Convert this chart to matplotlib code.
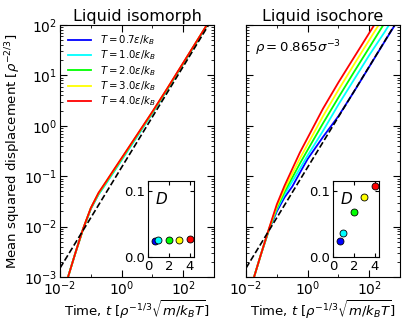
import matplotlib
matplotlib.use('Agg')
import matplotlib.pyplot as plt
from matplotlib.ticker import LogLocator, NullFormatter

# --- data ---
temps = [0.7, 1.0, 2.0, 3.0, 4.0]
colors = ['#0000ff', '#00ffff', '#00ff00', '#ffff00', '#ff0000']

t = [1e-2, 1.78e-2, 3.16e-2, 5.62e-2, 0.1, 0.178, 0.316, 0.562, 1.0,
     3.16, 10.0, 31.6, 100.0, 316.0, 1000.0]

# isomorph: curves nearly collapse
msd_iso = [
    [3.0e-4, 9.5e-4, 3.0e-3, 8.9e-3, 2.25e-2, 4.4e-2, 7.4e-2, 0.125, 0.214, 0.62, 1.80, 5.5, 17.0, 53.0, 165.0],
    [3.0e-4, 9.5e-4, 3.0e-3, 8.9e-3, 2.25e-2, 4.3e-2, 7.2e-2, 0.122, 0.208, 0.60, 1.78, 5.4, 17.0, 53.0, 165.0],
    [3.0e-4, 9.5e-4, 3.0e-3, 8.9e-3, 2.3e-2, 4.5e-2, 7.6e-2, 0.129, 0.220, 0.64, 1.85, 5.6, 17.3, 54.0, 167.0],
    [3.0e-4, 9.5e-4, 3.0e-3, 9.0e-3, 2.32e-2, 4.6e-2, 7.8e-2, 0.132, 0.225, 0.65, 1.88, 5.7, 17.5, 54.5, 168.0],
    [3.0e-4, 9.5e-4, 3.0e-3, 9.1e-3, 2.34e-2, 4.68e-2, 7.9e-2, 0.135, 0.229, 0.66, 1.91, 5.75, 17.8, 55.0, 170.0],
]
D_iso = [0.0245, 0.025, 0.0255, 0.026, 0.0265]

# isochore rho = 0.865
msd_ich = [
    [3.0e-4, 9.5e-4, 3.0e-3, 8.7e-3, 2.0e-2, 3.8e-2, 6.2e-2, 0.117, 0.219, 0.60, 1.55, 4.7, 14.8, 46.8, 145.0],
    [3.0e-4, 9.5e-4, 3.0e-3, 8.8e-3, 2.19e-2, 4.37e-2, 7.8e-2, 0.141, 0.257, 0.79, 2.63, 8.1, 25.1, 72.4, 224.0],
    [3.0e-4, 9.5e-4, 3.0e-3, 8.9e-3, 2.34e-2, 4.9e-2, 9.3e-2, 0.178, 0.331, 1.12, 3.63, 11.5, 35.5, 110.0, 339.0],
    [3.0e-4, 9.5e-4, 3.0e-3, 9.1e-3, 2.51e-2, 5.5e-2, 0.112, 0.224, 0.427, 1.55, 5.13, 16.2, 50.1, 155.0, 479.0],
    [3.0e-4, 9.5e-4, 3.0e-3, 9.3e-3, 2.75e-2, 6.46e-2, 0.138, 0.295, 0.575, 2.19, 7.24, 22.4, 69.2, 214.0, 631.0],
]
D_ich = [0.024, 0.0366, 0.0685, 0.0906, 0.1075]

# long-time reference line (dashed)
ref_t = [1e-2, 1e3]
ref_msd = [1.5e-3, 150.0]

plt.rcParams['xtick.direction'] = 'in'
plt.rcParams['ytick.direction'] = 'in'
plt.rcParams['xtick.top'] = True
plt.rcParams['ytick.right'] = True
plt.rcParams['xtick.major.size'] = 5
plt.rcParams['ytick.major.size'] = 5
plt.rcParams['xtick.minor.size'] = 2.5
plt.rcParams['ytick.minor.size'] = 2.5
plt.rcParams['mathtext.fontset'] = 'dejavusans'

fig = plt.figure(figsize=(4.07, 3.23), dpi=100)
ax1 = fig.add_axes([60/407, 1-277/323, 154/407, 252/323])
ax2 = fig.add_axes([246/407, 1-277/323, 154/407, 252/323])

xlab = r'Time, $t$ [$\rho^{-1/3}\sqrt{m/k_BT}$]'

for ax, msd, title in [(ax1, msd_iso, 'Liquid isomorph'), (ax2, msd_ich, 'Liquid isochore')]:
    for T, c, m in zip(temps, colors, msd):
        ax.plot(t, m, color=c, lw=1.3, label=r'$T = %.1f\epsilon/k_B$' % T)
    ax.plot(ref_t, ref_msd, 'k--', lw=1.2)
    ax.set_xscale('log')
    ax.set_yscale('log')
    ax.set_xlim(1e-2, 1e3)
    ax.set_ylim(1e-3, 1e2)
    ax.set_xticks([1e-2, 1e0, 1e2])
    ax.xaxis.set_minor_locator(LogLocator(base=10, subs=(1.0,), numticks=20))
    ax.xaxis.set_minor_formatter(NullFormatter())
    ax.yaxis.set_minor_locator(LogLocator(base=10, subs=range(2, 10), numticks=20))
    ax.yaxis.set_minor_formatter(NullFormatter())
    ax.tick_params(labelsize=10, pad=2)
    ax.set_title(title, fontsize=11.5, pad=3)
    ax.set_xlabel(xlab, fontsize=9.5, labelpad=0)

ax1.set_ylabel(r'Mean squared displacement [$\rho^{-2/3}$]', fontsize=9.5, labelpad=1)
ax2.set_yticklabels([])
ax1.legend(loc='upper left', frameon=False, fontsize=7.3, handlelength=2.3,
           labelspacing=0.15, borderaxespad=0.4, handletextpad=0.8)
ax2.text(0.06, 0.89, r'$\rho = 0.865\sigma^{-3}$', transform=ax2.transAxes, fontsize=9.5)

# insets with diffusion coefficients
for x0, D in [(148, D_iso), (333, D_ich)]:
    ins = fig.add_axes([x0/407, 1-257/323, 46/407, 76/323])
    for T, c, d in zip(temps, colors, D):
        ins.plot(T, d, 'o', color=c, mec='k', mew=0.6, ms=5)
    ins.set_xlim(0, 4.4)
    ins.set_ylim(0, 0.115)
    ins.set_xticks([0, 2, 4])
    ins.set_yticks([0.0, 0.1])
    ins.set_yticklabels(['0.0', '0.1'])
    ins.tick_params(labelsize=9.5, length=3, pad=2)
    ins.text(0.15, 0.7, '$D$', transform=ins.transAxes, fontsize=11)

fig.savefig('out.png', dpi=100)
